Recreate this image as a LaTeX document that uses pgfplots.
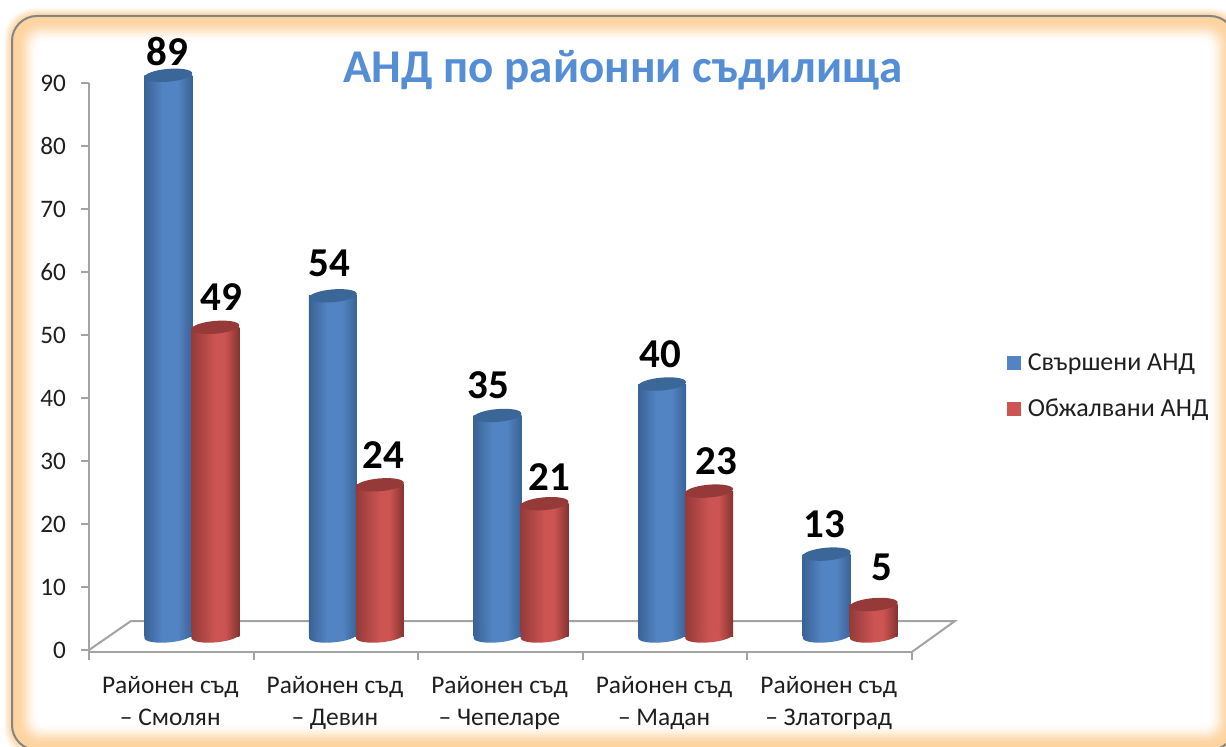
\documentclass[border=0pt]{standalone}
\usepackage{pgfplots}
\usepackage{pgfplotstable}
\usepackage{fontspec}
\setmainfont{Carlito}
\pgfplotsset{compat=1.18}
\definecolor{bE}{HTML}{3A6296}
\definecolor{bM}{HTML}{5283C2}
\definecolor{bT}{HTML}{3A6698}
\definecolor{rE}{HTML}{843331}
\definecolor{rL}{HTML}{943B39}
\definecolor{rM}{HTML}{CC5452}
\definecolor{rT}{HTML}{953A38}
\definecolor{glow}{HTML}{FDD3A0}
\definecolor{axgray}{HTML}{A3A3A3}
\definecolor{titleblue}{HTML}{558ED5}
\pgfdeclarehorizontalshading{cylblue}{100bp}{color(0bp)=(bE);color(25bp)=(bE);color(44bp)=(bM);color(60bp)=(bM);color(75bp)=(bE);color(100bp)=(bE)}
\pgfdeclarehorizontalshading{cylred}{100bp}{color(0bp)=(rL);color(25bp)=(rL);color(50bp)=(rM);color(60bp)=(rM);color(75bp)=(rE);color(100bp)=(rE)}
\pgfdeclareplotmark{baseb}{\pgftransformrotate{5}\pgfpathellipse{\pgfpointorigin}{\pgfqpoint{12pt}{0pt}}{\pgfqpoint{0pt}{3.2pt}}\pgfshadepath{cylblue}{0}\pgfusepath{discard}}
\pgfdeclareplotmark{baser}{\pgftransformrotate{5}\pgfpathellipse{\pgfpointorigin}{\pgfqpoint{12pt}{0pt}}{\pgfqpoint{0pt}{3.2pt}}\pgfshadepath{cylred}{0}\pgfusepath{discard}}
\pgfdeclareplotmark{topb}{\pgftransformrotate{5}\pgfsetfillcolor{bT}\pgfpathellipse{\pgfpointorigin}{\pgfqpoint{12pt}{0pt}}{\pgfqpoint{0pt}{3.2pt}}\pgfusepathqfill}
\pgfdeclareplotmark{topr}{\pgftransformrotate{5}\pgfsetfillcolor{rT}\pgfpathellipse{\pgfpointorigin}{\pgfqpoint{12pt}{0pt}}{\pgfqpoint{0pt}{3.2pt}}\pgfusepathqfill}
\pgfplotstableread{
x v b dx dy
0 89 0 -2.15 18.9
1 54 0 -3.45 23.2
2 35 0 -6.25 22.05
3 40 0 -2.55 21.8
4 13 0 -2.85 21.8
}\done
\pgfplotstableread{
x v b dx dy
0 49 0 24.85 21.95
1 24 0 23.55 21.7
2 21 0 24.25 20.15
3 23 0 25.45 21.8
4 5 0 26.15 25.55
}\appealed
\begin{document}
\begin{tikzpicture}
\useasboundingbox (0,0) rectangle (613pt,373pt);
\clip (0,0) rectangle (613pt,373pt);
% frame with glow (outline rect px: 12..1235 x 16..750)
\foreach \o/\c in {-9/4,-8/10,-7/20,-6/32,-5/45,-4/58,-3/70,-2/82,-1/92,0/100,3/100,5/98,7/92,9/84,11/72,13/58,15/44,17/30,19/18,21/9,23/4,25/0}{
  \fill[glow!\c!white,rounded corners={(25-\o*0.6)*0.5pt}]
    ({(12+\o)*0.5pt},{(746-750+\o)*0.5pt}) rectangle ({(1235-\o)*0.5pt},{(746-16-\o)*0.5pt});
}
\draw[color=black!48,line width=1pt,rounded corners=12.5pt] (6pt,-2pt) rectangle (617.5pt,365pt);
\begin{axis}[
  at={(44.5pt,47pt)},anchor=south west,
  scale only axis,width=411.5pt,height=284.5pt,
  xmin=-0.5,xmax=4.5,ymin=-0.3175,ymax=90,
  clip=false,
  axis lines=left,
  axis line style={-,draw=axgray,line width=1pt},
  tick style={draw=axgray,line width=1pt},
  tick align=outside,major tick length=4pt,
  /pgf/number format/assume math mode=true,
  ytick={0,10,...,90},
  xtick={-0.5,0.5,1.5,2.5,3.5,4.5},
  x tick label as interval=true,
  xticklabels={{Районен съд\\– Смолян},{Районен съд\\– Девин},{Районен съд\\– Чепеларе},{Районен съд\\– Мадан},{Районен съд\\– Златоград}},
  xticklabel style={align=center,font=\fontsize{12.7}{16}\selectfont,text=black!88,yshift=-4.5pt,xshift=-0.5pt},
  yticklabel style={font=\fontsize{12.6}{14}\selectfont,text=black!88,xshift=-4pt},
  title={\textbf{АНД по районни съдилища}},
  title style={at={(0.649,1.0016)},anchor=center,font=\fontsize{23.5}{27}\selectfont,text=titleblue},
  legend style={at={(1.1075,0.54)},anchor=north west,draw=none,fill=none,font=\fontsize{13}{15}\selectfont,row sep=9pt,legend cell align=left,text=black!88,nodes={inner xsep=3.5pt}},
  legend image code/.code={\fill[#1] (0pt,-3.5pt) rectangle (7pt,3.5pt);},
]
\addlegendimage{fill=bM,draw=none}\addlegendentry{Свършени АНД}
\addlegendimage{fill=rM,draw=none}\addlegendentry{Обжалвани АНД}
% floor
\addplot[forget plot,color=axgray,line width=1pt] coordinates {(-0.5,0) (-0.245,4.6) (4.761,4.6) (4.5,-0.3)};
% each bar is its own plot, so that its shading spans that bar alone
\pgfplotsinvokeforeach{-0.1:0.1,0.9:1.1,1.9:2.1,2.9:3.1,3.9:4.1}{
\addplot[forget plot,ybar,bar width=24pt,bar shift=0pt,draw=none,shade,shading=cylblue,shading angle=0,xshift=-1.5pt,yshift=7pt,restrict x to domain=#1] table[x=x,y=v]{\done};
}
\addplot[forget plot,only marks,mark=baseb,xshift=-1.5pt,yshift=7pt] table[x=x,y=b]{\done};
\addplot[forget plot,only marks,mark=topb,xshift=-1.5pt,yshift=7pt] table[x=x,y=v]{\done};
\pgfplotsinvokeforeach{-0.1:0.1,0.9:1.1,1.9:2.1,2.9:3.1,3.9:4.1}{
\addplot[forget plot,ybar,bar width=24pt,bar shift=0pt,draw=none,shade,shading=cylred,shading angle=0,xshift=22pt,yshift=7pt,restrict x to domain=#1] table[x=x,y=v]{\appealed};
}
\addplot[forget plot,only marks,mark=baser,xshift=22pt,yshift=7pt] table[x=x,y=b]{\appealed};
\addplot[forget plot,only marks,mark=topr,xshift=22pt,yshift=7pt] table[x=x,y=v]{\appealed};
% labels
\addplot[forget plot,only marks,mark=none,draw=none,
  visualization depends on={\thisrow{dx}\as\dx},
  visualization depends on={\thisrow{dy}\as\dy},
  point meta=explicit symbolic,
  nodes near coords,
  nodes near coords style={anchor=center,xshift=\dx pt,yshift=\dy pt,font=\fontsize{20.5}{24}\selectfont\bfseries,text=black}]
  table[x=x,y=v,meta=v]{\done};
\addplot[forget plot,only marks,mark=none,draw=none,
  visualization depends on={\thisrow{dx}\as\dx},
  visualization depends on={\thisrow{dy}\as\dy},
  point meta=explicit symbolic,
  nodes near coords,
  nodes near coords style={anchor=center,xshift=\dx pt,yshift=\dy pt,font=\fontsize{20.5}{24}\selectfont\bfseries,text=black}]
  table[x=x,y=v,meta=v]{\appealed};
\end{axis}
\end{tikzpicture}
\end{document}
